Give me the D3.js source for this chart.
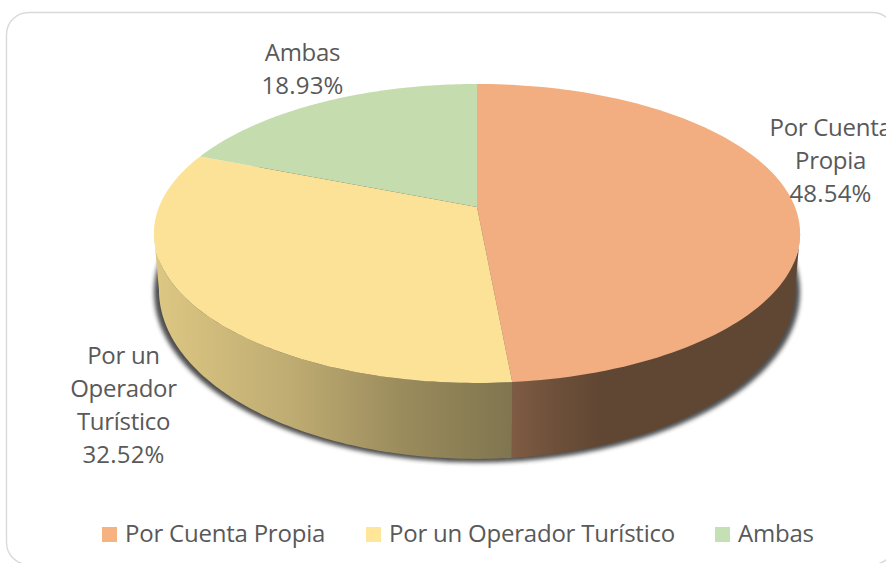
<!DOCTYPE html>
<html><head><meta charset="utf-8">
<script src="https://cdn.jsdelivr.net/npm/d3@7"></script>
<style>html,body{margin:0;padding:0;background:#fff;overflow:hidden}svg{display:block}text{font-family:"Open Sans",sans-serif;fill:#595959}</style>
</head><body><svg id="c" width="886" height="563"></svg>
<script>
const categories = ["Por Cuenta Propia", "Por un Operador Turístico", "Ambas"];
const values = [48.54, 32.52, 18.93];
const valueLabels = ["48.54%", "32.52%", "18.93%"];
const topColors = ["#F2AE80", "#FBE296", "#C5DCAF"];
const legendColors = ["#F7B282", "#FFE699", "#C5E0B4"];
const labelLines = [["Por Cuenta", "Propia"], ["Por un", "Operador", "Turístico"], ["Ambas"]];

const svg = d3.select("#c");
const defs = svg.append("defs");
const W = 886, H = 563;
svg.append("rect").attr("width", W).attr("height", H).attr("fill", "#fff");
svg.append("rect").attr("x", 6.5).attr("y", 12.5).attr("width", 888).attr("height", 552).attr("rx", 22)
  .attr("fill", "#fff").attr("stroke", "#d9d9d9").attr("stroke-width", 1.4);

// perspective disc: k tilts the far side back
const k = 0.177;
const cx = 477;
const topX = d3.scaleLinear().domain([-1, 1]).range([cx - 318, cx + 318]);
const topY = d3.scaleLinear().domain([-1, 1]).range([207 + 144.8, 207 - 144.8]);
const botX = d3.scaleLinear().domain([-1, 1]).range([cx - 313, cx + 313]);
const botY = d3.scaleLinear().domain([-1, 1]).range([260 + 163.7, 260 - 163.7]);
const proj = (a, X, Y) => {
  const u = Math.sin(a), v = Math.cos(a), d = 1 + k * v;
  return [X(u / d), Y(v / d)];
};
const line = d3.line();
const sweep = (a0, a1) => d3.range(0, 121).map(i => a0 + (a1 - a0) * i / 120);

const arcs = d3.pie().sort(null).value(d => d).startAngle(0).endAngle(2 * Math.PI)(values);

// silhouette angles, where the rim is widest
const aR = Math.acos(-k), aL = 2 * Math.PI - aR;

// soft shadow below the body
const blur = defs.append("filter").attr("id", "soft").attr("x", "-5%").attr("y", "-5%").attr("width", "110%").attr("height", "110%");
blur.append("feGaussianBlur").attr("stdDeviation", 2);
svg.append("ellipse").attr("cx", cx).attr("cy", 292).attr("rx", 323).attr("ry", 170.5)
  .attr("fill", "#3a3a3a").attr("opacity", 0.9).attr("filter", "url(#soft)");

// side wall gradients
const wallStops = [
  [[0, "#7F5B43"], [0.15, "#6E503A"], [0.31, "#604733"], [1, "#604733"]],
  [[0, "#7F754F"], [0.30, "#9A8B5C"], [0.62, "#BFAC72"], [1, "#DDC783"]]
];
const gradEnds = [[512, 800], [512, 154]];
[0, 1].forEach(i => {
  const g = defs.append("linearGradient").attr("id", "wall" + i).attr("gradientUnits", "userSpaceOnUse")
    .attr("x1", gradEnds[i][0]).attr("x2", gradEnds[i][1]).attr("y1", 0).attr("y2", 0);
  wallStops[i].forEach(s => g.append("stop").attr("offset", s[0]).attr("stop-color", s[1]));
});

// walls
arcs.forEach((d, i) => {
  const a0 = Math.max(d.startAngle, aR), a1 = Math.min(d.endAngle, aL);
  if (a1 <= a0) return;
  const pts = sweep(a0, a1);
  const ring = pts.map(a => proj(a, topX, topY)).concat(pts.slice().reverse().map(a => proj(a, botX, botY)));
  svg.append("path").attr("d", line(ring) + "Z").attr("fill", `url(#wall${i})`);
});

// top faces
arcs.forEach((d, i) => {
  const ring = [[topX(0), topY(0)]].concat(sweep(d.startAngle, d.endAngle).map(a => proj(a, topX, topY)));
  svg.append("path").attr("d", line(ring) + "Z").attr("fill", topColors[i]);
});

// data labels
const labelAnchor = [[830.5, 136], [123.5, 364], [302.5, 61]];
const FS = 24, LH = 33;
labelLines.forEach((lines, i) => {
  const t = svg.append("text").attr("text-anchor", "middle").attr("font-size", FS);
  lines.forEach((s, j) => t.append("tspan").attr("x", labelAnchor[i][0]).attr("y", labelAnchor[i][1] + j * LH)
    .attr("letter-spacing", -0.3).text(s));
  t.append("tspan").attr("x", labelAnchor[i][0]).attr("y", labelAnchor[i][1] + lines.length * LH)
    .attr("letter-spacing", 0.2).text(valueLabels[i]);
});

// legend
const legendX = [102, 366, 715];
const lg = svg.append("g");
categories.forEach((c, i) => {
  lg.append("rect").attr("x", legendX[i]).attr("y", 527).attr("width", 15).attr("height", 15).attr("fill", legendColors[i]);
  lg.append("text").attr("x", legendX[i] + 23).attr("y", 542).attr("font-size", FS).attr("letter-spacing", -0.22).text(c);
});
</script></body></html>
